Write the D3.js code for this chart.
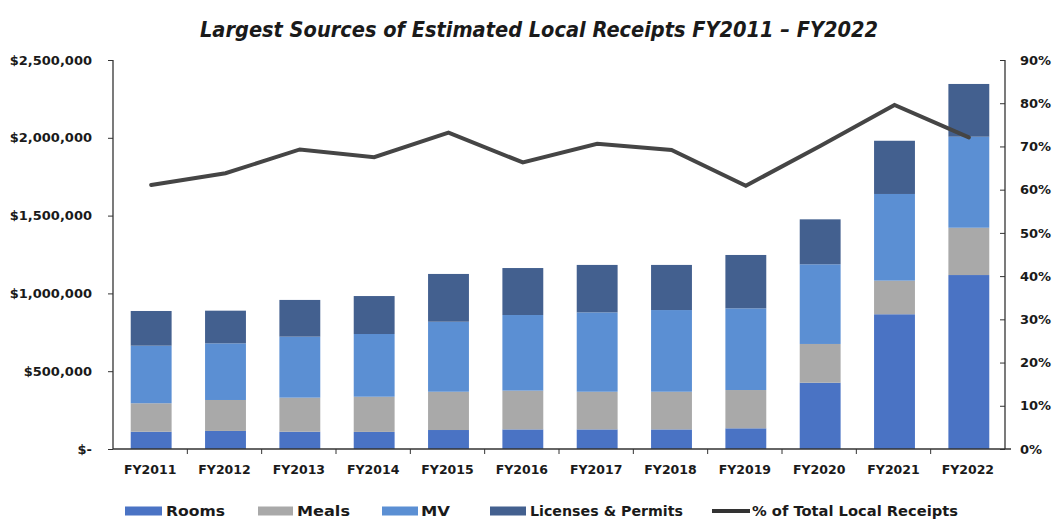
<!DOCTYPE html>
<html><head><meta charset="utf-8">
<script src="https://cdn.jsdelivr.net/npm/d3@7"></script>
<style>
body{margin:0;background:#fff;}
svg{display:block;}
text{font-family:"DejaVu Sans",sans-serif;font-weight:bold;fill:#1a1a1a;}
</style></head>
<body><svg id="chart" width="1058" height="519"></svg>
<script>
const categories = ["FY2011","FY2012","FY2013","FY2014","FY2015","FY2016","FY2017","FY2018","FY2019","FY2020","FY2021","FY2022"];
const rooms    = [111000,116000,111000,110000,122000,126000,126000,126000,133000,426000,866000,1118000];
const meals    = [183000,199000,219000,226000,246000,249000,242000,242000,246000,249000,216000,304000];
const mv       = [370000,364000,392000,403000,450000,486000,510000,525000,525000,512000,557000,585000];
const licenses = [223000,210000,236000,244000,307000,302000,305000,290000,343000,289000,342000,339000];
const pctTotal = [61.1,63.8,69.3,67.5,73.2,66.3,70.6,69.2,60.9,70.1,79.6,72.1];
const leftTicks = [0,500000,1000000,1500000,2000000,2500000];
const rightTicks = [0,10,20,30,40,50,60,70,80,90];
const seriesNames = ["Rooms","Meals","MV","Licenses & Permits"];
const lineName = "% of Total Local Receipts";
const titleText = "Largest Sources of Estimated Local Receipts FY2011 \u2013 FY2022";

const colors = {"Rooms":"#4a73c4","Meals":"#a9a9a9","MV":"#5b8fd3","Licenses & Permits":"#43608f"};
const svg = d3.select("#chart");
const L = 113, R = 1005, T = 60, B = 449;

const x = d3.scaleBand().domain(categories).range([L,R]).paddingInner(0.45).paddingOuter(0.225);
const y = d3.scaleLinear().domain([0,2500000]).range([B,T]);
const y2 = d3.scaleLinear().domain([0,90]).range([B,T]);

const rows = categories.map((c,i)=>({cat:c,"Rooms":rooms[i],"Meals":meals[i],"MV":mv[i],"Licenses & Permits":licenses[i]}));
const stacked = d3.stack().keys(seriesNames)(rows);

svg.append("g").selectAll("g").data(stacked).join("g")
  .attr("fill",d=>colors[d.key])
  .selectAll("rect").data(d=>d).join("rect")
  .attr("x",d=>x(d.data.cat)+1)
  .attr("width",x.bandwidth())
  .attr("y",d=>y(d[1]))
  .attr("height",d=>y(d[0])-y(d[1]));

// axes
const axL = svg.append("g").attr("transform",`translate(${L},0)`)
  .call(d3.axisLeft(y).tickValues(leftTicks).tickSize(5).tickPadding(16)
    .tickFormat(v=> v===0 ? "$-" : "$"+d3.format(",")(v)));
const axR = svg.append("g").attr("transform",`translate(${R},0)`)
  .call(d3.axisRight(y2).tickValues(rightTicks).tickSize(0).tickPadding(15)
    .tickFormat(v=>v+"%"));
axR.selectAll(".tick").append("line").attr("x1",-5).attr("x2",0).attr("stroke","#333");
const axB = svg.append("g").attr("transform",`translate(0,${B})`)
  .call(d3.axisBottom(x).tickSize(0).tickPadding(16));
// category boundary ticks
svg.append("g").selectAll("line").data(categories.slice(1)).join("line")
  .attr("x1",d=>x(d)-x.step()*x.paddingInner()/2).attr("x2",d=>x(d)-x.step()*x.paddingInner()/2)
  .attr("y1",B).attr("y2",B+5).attr("stroke","#333");
[axL,axR,axB].forEach(a=>{
  a.select(".domain").attr("stroke","#333").attr("stroke-width",1.3);
  a.selectAll(".tick line").attr("stroke","#333");
  a.selectAll("text").attr("font-size",13).attr("font-family","DejaVu Sans").attr("font-weight","bold").attr("fill","#1a1a1a");
});
axB.selectAll("text").attr("font-size",12.5);
axL.select(".domain").attr("d",`M-0,${T}V${B}`);
axR.select(".domain").attr("d",`M0,${T}V${B}`);
axB.select(".domain").attr("d",`M${L},0H${R+6}`);

// line
const line = d3.line().x((d,i)=>x(categories[i])+1+x.bandwidth()/2).y(d=>y2(d));
svg.append("path").datum(pctTotal).attr("d",line)
  .attr("fill","none").attr("stroke","#454545").attr("stroke-width",4).attr("stroke-linejoin","miter").attr("stroke-linecap","round");

// title
svg.append("text").attr("x",539).attr("y",37).attr("text-anchor","middle")
  .attr("font-family","Lato, 'Open Sans', sans-serif").attr("font-style","italic")
  .attr("font-size",21).attr("textLength",678).attr("lengthAdjust","spacingAndGlyphs")
  .text(titleText);

// legend
const legY = 511;
const legItems = [
  {name:"Rooms",sx:125,sw:37,tx:166,tw:59},
  {name:"Meals",sx:258,sw:35,tx:297,tw:53},
  {name:"MV",sx:382,sw:36,tx:421,tw:29},
  {name:"Licenses & Permits",sx:490,sw:36,tx:530,tw:153}
];
const lg = svg.append("g");
legItems.forEach(it=>{
  lg.append("rect").attr("x",it.sx).attr("y",legY-4.5).attr("width",it.sw).attr("height",9).attr("fill",colors[it.name]);
  lg.append("text").attr("x",it.tx).attr("y",legY+5).attr("font-size",13.5)
    .attr("textLength",it.tw).attr("lengthAdjust","spacingAndGlyphs").text(it.name);
});
lg.append("line").attr("x1",712).attr("x2",750).attr("y1",legY).attr("y2",legY).attr("stroke","#333").attr("stroke-width",4);
lg.append("text").attr("x",752).attr("y",legY+5).attr("font-size",13.5)
  .attr("textLength",206).attr("lengthAdjust","spacingAndGlyphs").text(lineName);
</script></body></html>
